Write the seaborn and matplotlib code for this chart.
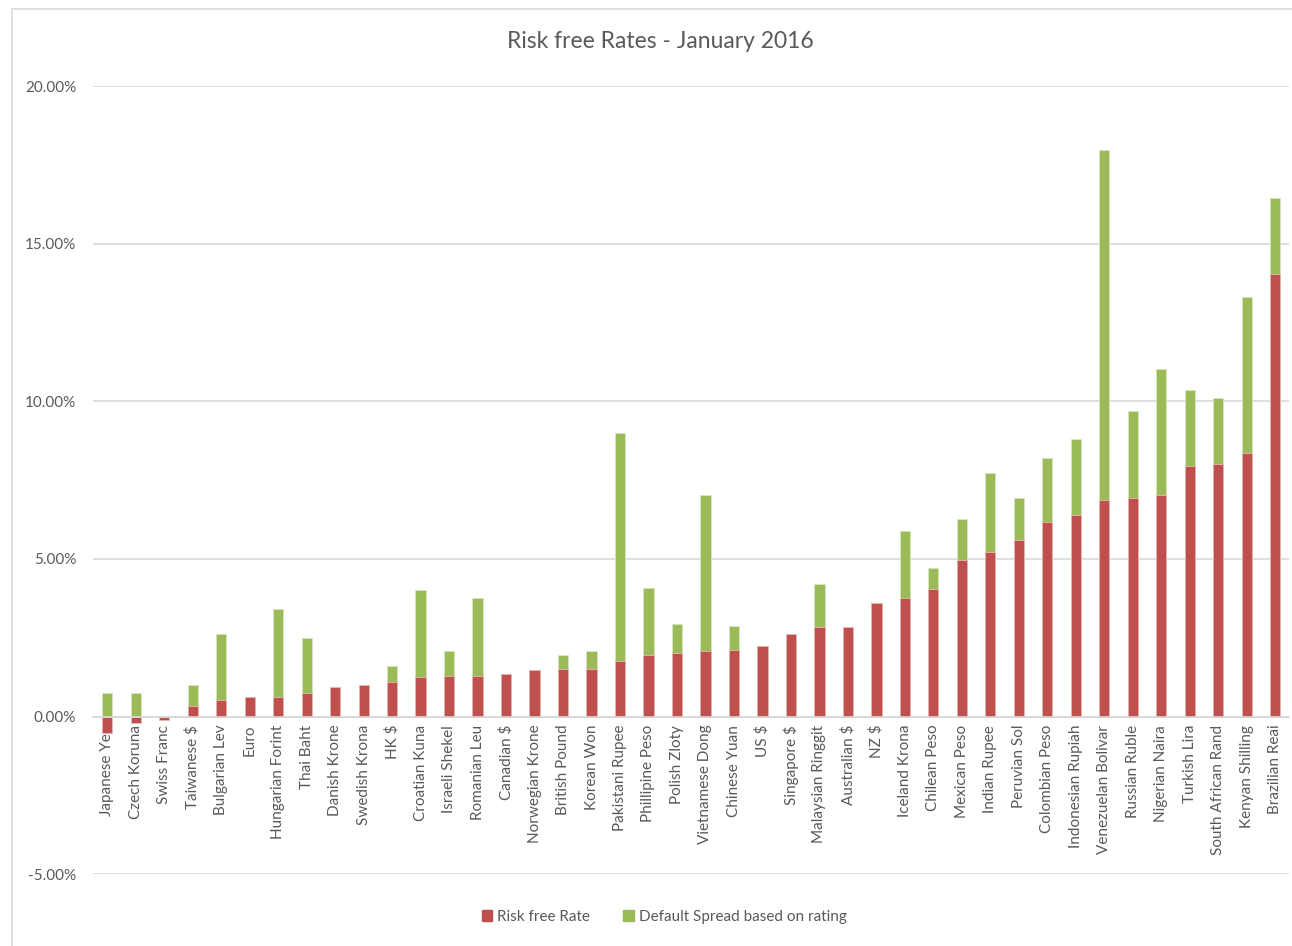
import pandas as pd
import seaborn as sns
import matplotlib.pyplot as plt
from matplotlib.patches import Patch, Rectangle
from matplotlib.ticker import FuncFormatter, MultipleLocator

# Values (in %)
currencies = ["Japanese Yen", "Czech Koruna", "Swiss Franc", "Taiwanese $", "Bulgarian Lev",
              "Euro", "Hungarian Forint", "Thai Baht", "Danish Krone", "Swedish Krona",
              "HK $", "Croatian Kuna", "Israeli Shekel", "Romanian Leu", "Canadian $",
              "Norwegian Krone", "British Pound", "Korean Won", "Pakistani Rupee",
              "Phillipine Peso", "Polish Zloty", "Vietnamese Dong", "Chinese Yuan", "US $",
              "Singapore $", "Malaysian Ringgit", "Australian $", "NZ $", "Iceland Krona",
              "Chilean Peso", "Mexican Peso", "Indian Rupee", "Peruvian Sol",
              "Colombian Peso", "Indonesian Rupiah", "Venezuelan Bolivar", "Russian Ruble",
              "Nigerian Naira", "Turkish Lira", "South African Rand", "Kenyan Shilling",
              "Brazilian Reai"]
risk_free = [-0.51, -0.21, -0.10, 0.32, 0.51, 0.63, 0.63, 0.75, 0.93, 1.00,
             1.11, 1.24, 1.29, 1.29, 1.36, 1.47, 1.51, 1.51, 1.77, 1.95,
             2.01, 2.07, 2.12, 2.25, 2.61, 2.85, 2.85, 3.59, 3.77, 4.04,
             4.95, 5.23, 5.60, 6.16, 6.39, 6.87, 6.93, 7.04, 7.96, 8.02,
             8.36, 14.04]
default_spread = [0.75, 0.75, 0.00, 0.68, 2.11, 0.00, 2.78, 1.75, 0.00, 0.00,
                  0.49, 2.77, 0.80, 2.48, 0.00, 0.00, 0.44, 0.56, 7.23, 2.12,
                  0.92, 4.96, 0.74, 0.00, 0.00, 1.34, 0.00, 0.00, 2.11, 0.66,
                  1.32, 2.48, 1.33, 2.04, 2.42, 11.10, 2.77, 3.99, 2.41, 2.10,
                  4.95, 2.41]

df = pd.DataFrame({"currency": currencies, "rf": risk_free, "spread": default_spread})
# green segment sits on top of the positive part of the risk free rate
df["top"] = df["rf"].clip(lower=0) + df["spread"]

red = "#C0504D"
green = "#9BBB59"
text_col = "#595959"

sns.set_style("white")
plt.rcParams["font.family"] = ["Lato", "DejaVu Sans"]

fig = plt.figure(figsize=(12.92, 9.46), dpi=100)
ax = fig.add_axes([0.072, 0.076, 0.926, 0.833])

sns.barplot(data=df, x="currency", y="top", color=green, saturation=1, width=0.36,
            errorbar=None, edgecolor="#D7E4BD", linewidth=0.6, ax=ax)
sns.barplot(data=df, x="currency", y="rf", color=red, saturation=1, width=0.36,
            errorbar=None, edgecolor="#E6B9B8", linewidth=0.6, ax=ax)

ax.set_ylim(-5, 20)
ax.set_xlim(-0.5, len(currencies) - 0.5)
ax.yaxis.set_major_locator(MultipleLocator(5))
ax.yaxis.set_major_formatter(FuncFormatter(lambda v, p: f"{v:.2f}%"))
ax.grid(axis="y", color="#D9D9D9", linewidth=1.2)
ax.set_axisbelow(True)

for s in ["top", "right", "left"]:
    ax.spines[s].set_visible(False)
ax.spines["bottom"].set_position(("data", 0))
ax.spines["bottom"].set_color("#D9D9D9")
ax.spines["bottom"].set_linewidth(1.2)

ax.tick_params(axis="y", length=0, pad=12, labelsize=11, labelcolor=text_col)
ax.tick_params(axis="x", length=0, pad=6, labelsize=11, labelcolor=text_col, rotation=90)
ax.set_xlabel("")
ax.set_ylabel("")

fig.text(0.511, 0.956, "Risk free Rates - January 2016", ha="center", va="center",
         fontsize=16.5, color=text_col)

handles = [Patch(color=red, label="Risk free Rate"),
           Patch(color=green, label="Default Spread based on rating")]
fig.legend(handles=handles, loc="center", bbox_to_anchor=(0.514, 0.031), ncol=2,
           frameon=False, fontsize=11, labelcolor=text_col, handlelength=0.7,
           handleheight=0.7, handletextpad=0.3, columnspacing=2.2)

# chart area border
fig.patches.append(Rectangle((0.009, -0.01), 1.0, 1.0, transform=fig.transFigure,
                             fill=False, edgecolor="#D9D9D9", linewidth=1.2))

fig.savefig("out.png", dpi=100)
